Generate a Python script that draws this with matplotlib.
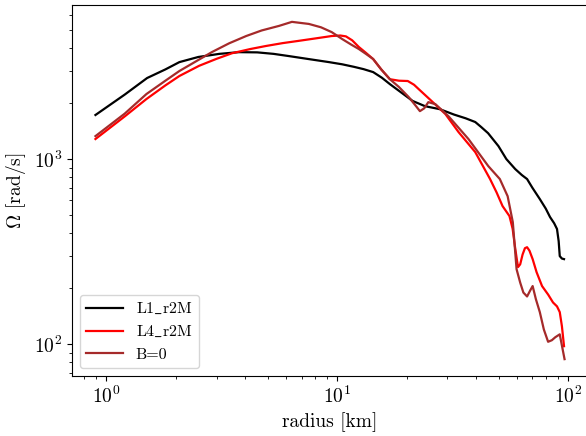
import matplotlib
matplotlib.use('Agg')
import matplotlib.pyplot as plt

plt.rcParams['font.family'] = ['cmr10', 'DejaVu Serif']
plt.rcParams['mathtext.fontset'] = 'cm'
plt.rcParams['axes.formatter.use_mathtext'] = True

# L1_r2M
r_l1 = [0.896, 1.2, 1.5, 1.8, 2.07, 2.5, 3.08, 3.75, 4.5, 5.3, 6.17, 7.5, 9.2, 10.5,
        11.8, 13.0, 14.3, 15.6, 16.9, 19.0, 21.2, 24.0, 27.8, 32.0, 36.0, 39.6,
        42.0, 45.0, 49.9, 54.0, 59.0, 63.0, 66.4, 70.0, 75.4, 80.0, 83.5, 87.0,
        89.5, 91.0, 92.0, 94.0, 96.0]
om_l1 = [1730, 2230, 2740, 3050, 3340, 3560, 3700, 3780, 3770, 3700, 3600, 3470, 3340,
         3250, 3150, 3060, 2950, 2750, 2540, 2280, 2060, 1930, 1860, 1740, 1660,
         1585, 1490, 1380, 1175, 1000, 883, 820, 780, 700, 608, 540, 486, 450,
         419, 360, 299, 290, 288]

# L4_r2M
r_l4 = [0.896, 1.2, 1.49, 1.8, 2.07, 2.52, 3.0, 3.5, 4.2, 4.9, 5.8, 6.8, 8.0, 9.46,
        10.3, 10.9, 11.6, 12.4, 13.3, 14.3, 15.5, 16.9, 18.5, 20.2, 21.5, 22.5,
        25.6, 29.4, 33.5, 39.6, 45.9, 49.0, 52.0, 55.7, 57.5, 58.8, 60.0, 60.7,
        62.0, 63.5, 65.0, 66.4, 68.0, 70.2, 73.0, 77.1, 82.0, 86.0, 89.5, 92.0,
        94.0, 96.0]
om_l4 = [1283, 1700, 2110, 2500, 2810, 3190, 3480, 3730, 3930, 4080, 4230, 4350, 4480,
         4620, 4650, 4600, 4380, 4030, 3750, 3470, 3050, 2700, 2650, 2640, 2520,
         2390, 2060, 1750, 1400, 1090, 780, 660, 557, 492, 420, 339, 285, 261,
         270, 305, 330, 334, 320, 288, 245, 206, 185, 168, 160, 149, 125, 97.5]

# B=0
r_b0 = [0.896, 1.2, 1.49, 1.8, 2.07, 2.87, 3.4, 4.03, 4.7, 5.59, 6.36, 7.53, 8.5,
        9.46, 10.5, 11.5, 12.4, 13.3, 14.3, 15.5, 16.9, 18.5, 20.4, 21.8, 22.8,
        23.8, 24.8, 26.6, 30.3, 37.0, 45.1, 50.6, 54.7, 57.6, 59.8, 62.0, 64.0,
        66.4, 68.5, 70.2, 72.5, 75.4, 78.5, 81.9, 85.0, 88.0, 92.0, 94.5, 96.5]
om_b0 = [1330, 1760, 2245, 2650, 2990, 3790, 4220, 4620, 4950, 5240, 5510, 5370, 5150,
         4850, 4450, 4150, 3930, 3700, 3470, 3050, 2700, 2450, 2160, 1950, 1815,
         1880, 2030, 1980, 1705, 1283, 916, 780, 630, 456, 254, 215, 190,
         181, 195, 206, 175, 149, 120, 103, 105, 109, 113, 95, 83]

fig = plt.figure(figsize=(5.86, 4.36), dpi=100)
ax = fig.add_axes([72 / 586, 1 - 376 / 436, (588 - 72) / 586, (376 - 5) / 436])

ax.plot(r_l1, om_l1, color='black', lw=1.6, label=r'L1$\_$r2M')
ax.plot(r_l4, om_l4, color='red', lw=1.6, label=r'L4$\_$r2M')
ax.plot(r_b0, om_b0, color='brown', lw=1.6, label='B=0')

ax.set_xscale('log')
ax.set_yscale('log')
ax.set_xlabel('radius [km]', fontsize=14)
ax.set_ylabel(r'$\Omega$ [rad/s]', fontsize=14)
ax.tick_params(labelsize=14)
ax.legend(loc='lower left', fontsize=11.5, handlelength=2.3)

fig.savefig('out.png', dpi=100)
